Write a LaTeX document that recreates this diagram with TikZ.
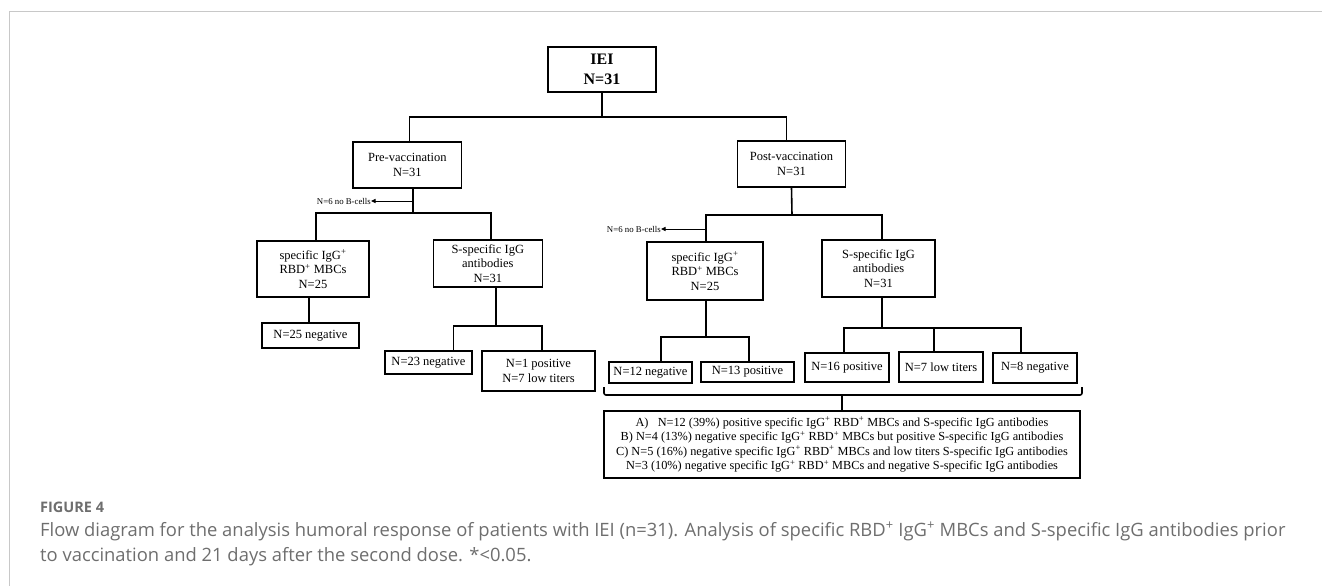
\documentclass[tikz,border=0pt]{standalone}
\usepackage{fontspec}
\setmainfont{Liberation Serif}
\newfontfamily\capfont{Open Sans}
\usetikzlibrary{arrows.meta}
\definecolor{capgray}{HTML}{6E6E6E}
\definecolor{framegray}{HTML}{C8C8C8}
\begin{document}
\begin{tikzpicture}[x=1pt,y=-1pt,
  box/.style={draw, line width=1.6pt, align=center, inner sep=0pt,
    font=\fontsize{12.5}{14.5}\selectfont},
  conn/.style={line width=1.6pt},
  smalltxt/.style={font=\fontsize{8.8}{10}\selectfont, inner sep=0pt, anchor=east},
  exclarrow/.style={line width=1pt, -{Triangle[length=4.5pt,width=4pt]}},
  captxt/.style={anchor=base west, inner sep=0pt, text=capgray,
    font=\capfont\fontsize{18.4}{22}\selectfont},
]
\useasboundingbox (0,0) rectangle (1322,586);
\draw[framegray, line width=1pt] (9,586) -- (9,12) -- (1322,12);

% nodes
\node[box, minimum width=108.5pt, minimum height=45pt,
  font=\bfseries\fontsize{16}{20}\selectfont] (iei) at (602,69.5) {IEI\\N=31};
\node[box, minimum width=108.6pt, minimum height=46pt] (pre) at (407.3,165) {Pre-vaccination\\N=31};
\node[box, minimum width=108pt, minimum height=46pt] (post) at (791.5,164) {Post-vaccination\\N=31};

\node[box, minimum width=112pt, minimum height=56pt] (lspec) at (313,269)
  {specific IgG\textsuperscript{+}\\RBD\textsuperscript{+} MBCs\\N=25};
\node[box, minimum width=109pt, minimum height=47pt] (lsab) at (487.8,263.5)
  {S-specific IgG\\antibodies\\N=31};
\node[box, minimum width=97pt, minimum height=25pt] (lneg) at (310.5,335.5) {N=25 negative};
\node[box, minimum width=87pt, minimum height=23pt] (lsneg) at (428.5,362.5) {N=23 negative};
\node[box, minimum width=113pt, minimum height=40pt] (lspos) at (538.5,371) {N=1 positive\\N=7 low titers};

\node[box, minimum width=116pt, minimum height=58pt] (rspec) at (705,271)
  {specific IgG\textsuperscript{+}\\RBD\textsuperscript{+} MBCs\\N=25};
\node[box, minimum width=113pt, minimum height=57pt] (rsab) at (878.5,268.5)
  {S-specific IgG\\antibodies\\N=31};
\node[box, minimum width=83pt, minimum height=21pt] (rneg) at (650.5,372.5) {N=12 negative};
\node[box, minimum width=93pt, minimum height=20pt] (rpos) at (747.5,372) {N=13 positive};
\node[box, minimum width=84pt, minimum height=29pt] (rspos) at (847,367.5) {N=16 positive};
\node[box, minimum width=84pt, minimum height=30pt] (rslow) at (941,367) {N=7 low titers};
\node[box, minimum width=84pt, minimum height=30pt] (rsneg) at (1035,368) {N=8 negative};

\node[box, minimum width=476pt, minimum height=67pt,
  font=\fontsize{12.3}{14.5}\selectfont] (summ) at (842,444.5)
  {A)\ \ \ N=12 (39\%) positive specific IgG\textsuperscript{+} RBD\textsuperscript{+} MBCs and S-specific IgG antibodies\\
   B) N=4 (13\%) negative specific IgG\textsuperscript{+} RBD\textsuperscript{+} MBCs but positive S-specific IgG antibodies\\
   C) N=5 (16\%) negative specific IgG\textsuperscript{+} RBD\textsuperscript{+} MBCs and low titers S-specific IgG antibodies\\
   N=3 (10\%) negative specific IgG\textsuperscript{+} RBD\textsuperscript{+} MBCs and negative S-specific IgG antibodies};

% junctions
\coordinate (jA) at (602,117);
\coordinate (jB) at (413,213);
\coordinate (jC) at (792,215);
\coordinate (jD) at (496,326);
\coordinate (jE) at (706,337);
\coordinate (jF) at (882,328);
\coordinate (exL) at (413,201);
\coordinate (exR) at (706,229);

% connectors
\draw[conn] (iei.south) -- (jA);
\draw[conn] ([xshift=2pt]pre.north) |- (jA) -| ([xshift=-5pt]post.north);

\draw[conn] ([xshift=5.7pt]pre.south) -- (jB);
\draw[conn] ([xshift=3pt]lspec.north) |- (jB) -| ([xshift=3.2pt]lsab.north);

\draw[conn] (post.south) -- (jC);
\draw[conn] ([xshift=1pt]rspec.north) |- (jC) -| ([xshift=3.5pt]rsab.north);

\draw[conn] ([xshift=-4pt]lspec.south) -- ([xshift=-1.5pt]lneg.north);

\draw[conn] ([xshift=8.2pt]lsab.south) -- (jD);
\draw[conn] ([xshift=24.8pt]lsneg.north) |- (jD) -| ([xshift=3.2pt]lspos.north);

\draw[conn] ([xshift=1pt]rspec.south) -- (jE);
\draw[conn] ([xshift=10.5pt]rneg.north) |- (jE) -| ([xshift=1.5pt]rpos.north);

\draw[conn] ([xshift=3.5pt]rsab.south) -- (jF);
\draw[conn] ([xshift=-3pt]rspos.north) |- (jF) -| ([xshift=-14pt]rsneg.north);
\draw[conn] (jF) -| ([xshift=-7pt]rslow.north);

% excluded
\node[smalltxt] (exLt) at (371,201) {N=6 no B-cells};
\node[smalltxt] (exRt) at (661,229) {N=6 no B-cells};
\draw[exclarrow] (exL) -- (exLt.east);
\draw[exclarrow] (exR) -- (exRt.east);

% bracket
\coordinate (brL) at (604,387);
\coordinate (brR) at (1082,387);
\coordinate (brM) at (842,395);
\draw[conn, rounded corners=2pt] (brL) -- (604,395) -- (1082,395) -- (brR);
\draw[conn] (brM) -- (summ.north);

% caption
\node[anchor=base west, inner sep=0pt, text=capgray,
  font=\capfont\bfseries\fontsize{14.5}{17}\selectfont] (figlab) at (40,512) {FIGURE 4};
\node[captxt] (cap1) at (40,536) {Flow diagram for the analysis humoral response of patients with IEI (n=31). Analysis of specific RBD\textsuperscript{+} IgG\textsuperscript{+} MBCs and S-specific IgG antibodies prior};
\node[captxt] (cap2) at (40,561) {to vaccination and 21 days after the second dose. *<0.05.};
\end{tikzpicture}
\end{document}
